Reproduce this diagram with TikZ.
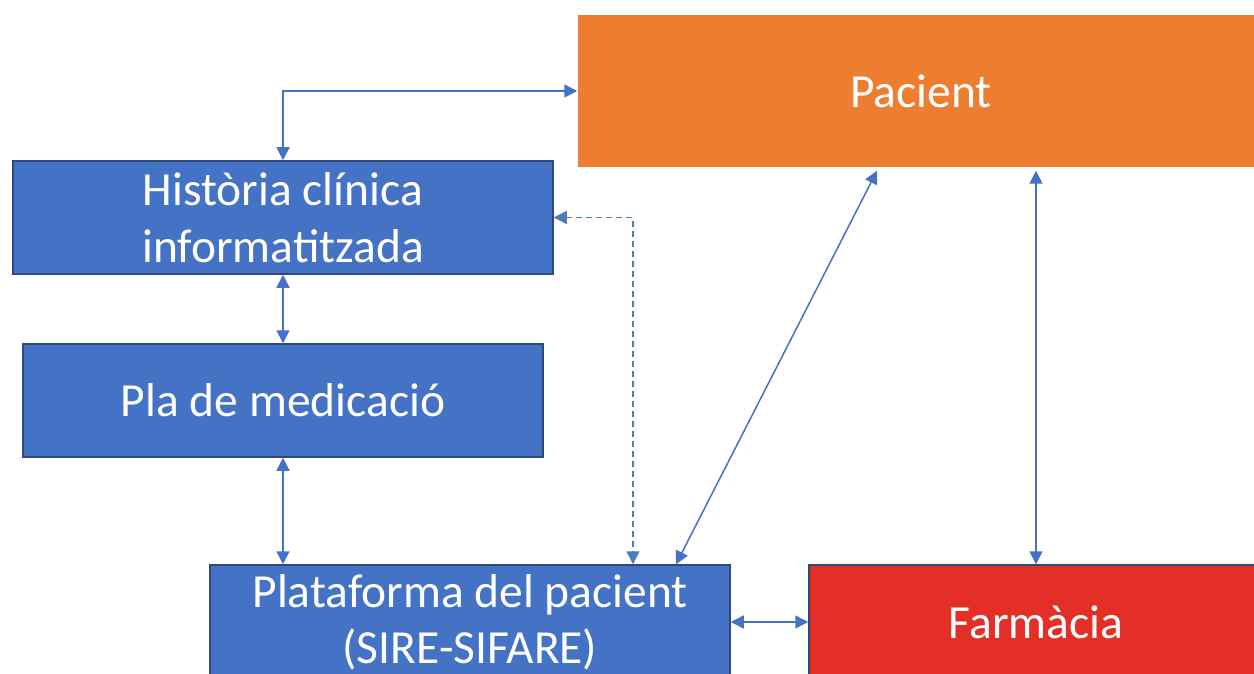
\documentclass[tikz,border=0pt]{standalone}
\usepackage{fontspec}
\setmainfont{Carlito}
\usetikzlibrary{arrows.meta}
\definecolor{boxblue}{HTML}{4472C4}
\definecolor{boxedge}{HTML}{2F4A7A}
\definecolor{pacorange}{HTML}{ED7D31}
\definecolor{farmred}{HTML}{E42F27}
\definecolor{linkblue}{HTML}{4472C4}
\definecolor{dashblue}{HTML}{4A7EBB}
\begin{document}
\begin{tikzpicture}[x=1pt,y=-1pt,
  box/.style={draw=boxedge, line width=1.5pt, fill=boxblue, text=white,
    align=center, inner sep=0pt, font=\fontsize{47.5}{57}\selectfont},
  link/.style={linkblue, line width=1.5pt,
    {Triangle[length=13pt,width=13pt]}-{Triangle[length=13pt,width=13pt]}}]
\clip (0,0) rectangle (1254,674);

\node[box, minimum width=540, minimum height=113] (hc) at (283,217.5)
  {Història clínica\\informatitzada};
\node[box, minimum width=520, minimum height=113] (pla) at (283,400.5)
  {Pla de medicació};
\node[box, minimum width=520, minimum height=114] (plat) at (470,622)
  {Plataforma del pacient\\[-1pt](SIRE-SIFARE)};
\node[box, fill=farmred, minimum width=454, minimum height=114] (farm) at (1036,622)
  {Farmàcia};
\node[box, draw=none, fill=pacorange, minimum width=686, minimum height=152] (pac) at (921,91)
  {Pacient};

\draw[link] (hc.north) |- (pac.west);
\draw[link] (hc.south) -- (pla.north);
\draw[link] (pla.south) -- (pla.south |- plat.north);
\draw[link, dashblue, dash pattern=on 6pt off 4pt] (hc.east) -| ([xshift=163pt]plat.north);
\draw[link] ([xshift=-44pt,yshift=-3pt]pac.south) -- ([xshift=206pt]plat.north);
\draw[link] ([yshift=-3pt]farm.north |- pac.south) -- (farm.north);
\draw[link] (plat.east) -- (farm.west);

\end{tikzpicture}
\end{document}
